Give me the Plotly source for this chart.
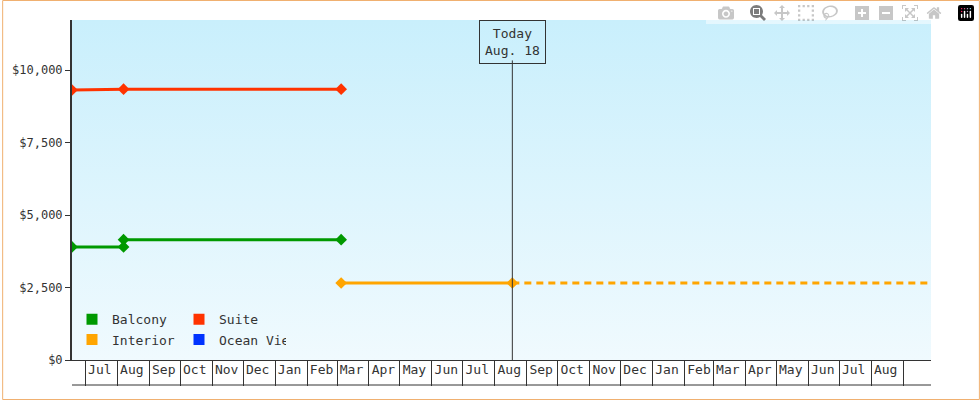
import plotly.graph_objects as go
import pandas as pd

balcony_dates = ["2023-06-18", "2023-08-07", "2023-08-07", "2024-03-05"]
balcony_vals = [3900, 3900, 4150, 4150]
suite_dates = ["2023-06-18", "2023-08-07", "2024-03-05"]
suite_vals = [9310, 9340, 9340]
interior_dates = ["2024-03-05", "2024-08-18"]
interior_vals = [2655, 2655]
interior_future_dates = ["2024-08-18", "2025-09-28"]
interior_future_vals = [2655, 2655]
today = "2024-08-18"
today_label = "Today<br>Aug. 18"
y_ticks = [0, 2500, 5000, 7500, 10000]
y_labels = ["$0", "$2,500", "$5,000", "$7,500", "$10,000"]
x_range = ["2023-06-18", "2025-09-28"]
month_starts = pd.date_range("2023-07-01", "2025-09-01", freq="MS")
month_mids = [d + pd.Timedelta(days=14) for d in month_starts[:-1]]
month_labels = [d.strftime("%b") for d in month_starts[:-1]]

GREEN, RED, ORANGE, BLUE = "#009900", "#ff3300", "#ffa500", "#0033ff"
FONT = dict(family="DejaVu Sans Mono", size=12, color="#333")

fig = go.Figure()
fig.add_trace(go.Scatter(x=[x_range[0], x_range[1], x_range[1], x_range[0], x_range[0]],
                         y=[0, 0, 11724, 11724, 0], fill="toself", mode="none",
                         fillgradient=dict(type="vertical", colorscale=[[0, "#f0fafe"], [1, "#c9effc"]]),
                         showlegend=False, hoverinfo="skip"))
mk = dict(symbol="diamond", size=9)
fig.add_trace(go.Scatter(x=balcony_dates, y=balcony_vals, mode="lines+markers", line=dict(color=GREEN, width=3),
                         marker=dict(color=GREEN, **mk), showlegend=False))
fig.add_trace(go.Scatter(x=suite_dates, y=suite_vals, mode="lines+markers", line=dict(color=RED, width=3),
                         marker=dict(color=RED, **mk), showlegend=False))
fig.add_trace(go.Scatter(x=interior_dates, y=interior_vals, mode="lines+markers", line=dict(color=ORANGE, width=3),
                         marker=dict(color=ORANGE, **mk), showlegend=False))
fig.add_trace(go.Scatter(x=interior_future_dates, y=interior_future_vals, mode="lines",
                         line=dict(color=ORANGE, width=3, dash="7px,5px"), showlegend=False))
for name, col, lg in [("Balcony", GREEN, "legend"), ("Suite", RED, "legend"), ("Interior", ORANGE, "legend2"), ("Ocean View", BLUE, "legend2")]:
    fig.add_trace(go.Scatter(x=[None], y=[None], mode="markers", name=name,
                             marker=dict(symbol="square", size=11, color=col), legend=lg))
fig.add_trace(go.Scatter(x=month_mids, y=[None]*len(month_mids), xaxis="x2", showlegend=False))

fig.add_shape(type="line", x0=today, x1=today, y0=0, y1=10330, line=dict(color="#333", width=1))
fig.add_annotation(x=today, y=11724, yref="y", yanchor="top", text=today_label, showarrow=False,
                   bordercolor="#333", borderwidth=1, borderpad=5, font=dict(family="DejaVu Sans Mono", size=13, color="#333"))
fig.add_shape(type="line", xref="paper", yref="paper", x0=0, x1=1, y0=-25/340, y1=-25/340, line=dict(color="#333", width=1))
fig.add_shape(type="rect", xref="paper", yref="paper", x0=-69.5/861, x1=909.5/861, y0=-39.5/340, y1=19.5/340 + 1,
              line=dict(color="#f0b070", width=1))

leg = dict(orientation="h", x=0.0, xanchor="left", font=dict(family="DejaVu Sans Mono", size=13, color="#333"),
           bgcolor="rgba(0,0,0,0)", entrywidth=62, itemwidth=30, tracegroupgap=0)
fig.update_layout(
    width=980, height=400, margin=dict(l=70, r=49, t=20, b=40),
    paper_bgcolor="white", plot_bgcolor="#e0f5fd", font=FONT,
    legend=dict(y=0.12, yanchor="middle", **leg),
    legend2=dict(y=0.06, yanchor="middle", **leg),
    xaxis=dict(range=x_range, type="date", tickvals=list(month_starts), ticktext=[""]*len(month_starts),
               ticks="outside", ticklen=25, tickcolor="#333", showgrid=False, zeroline=False,
               showline=True, linecolor="#333", linewidth=1),
    xaxis2=dict(range=x_range, type="date", overlaying="x", side="bottom", tickvals=month_mids,
                ticktext=month_labels, ticks="", showgrid=False, showline=False, ticklabelstandoff=0,
                tickfont=dict(family="DejaVu Sans Mono", size=13, color="#333")),
    yaxis=dict(range=[0, 11724], tickvals=y_ticks, ticktext=y_labels, ticks="outside", ticklen=5,
               tickcolor="#333", showgrid=False, zeroline=False, showline=True, linecolor="#333", linewidth=2),
)
fig.write_html("out.html", post_script="document.body.style.margin='0';document.body.style.overflow='hidden';")
